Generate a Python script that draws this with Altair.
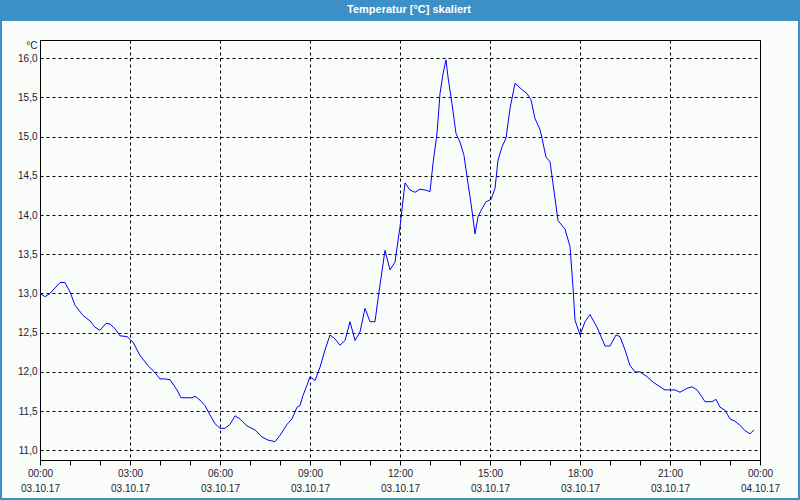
import altair as alt
import pandas as pd

# minutes after 03.10.17 00:00
minutes = [0, 10, 20, 40, 50, 60, 70, 86, 100, 110, 120, 132, 140, 150, 160, 174, 186, 200, 216, 230,
           240, 250, 260, 274, 282, 304, 310, 320, 330, 340, 350, 360, 370, 380, 390, 400, 414, 430, 444, 456,
           470, 480, 494, 504, 514, 520, 526, 534, 540, 550, 560, 570, 580, 590, 600, 610, 620, 630, 640, 650,
           660, 670, 676, 690, 700, 710, 720, 730, 740, 750, 760, 770, 780, 786, 794, 800, 806, 812, 816, 824,
           832, 840, 848, 854, 862, 870, 876, 884, 892, 902, 910, 916, 924, 932, 940, 950, 964, 974, 982, 990,
           1000, 1004, 1012, 1020, 1026, 1036, 1050, 1060, 1066, 1070, 1080, 1090, 1100, 1114, 1130, 1140, 1152, 1160, 1170, 1180,
           1190, 1200, 1214, 1226, 1240, 1250, 1270, 1280, 1294, 1304, 1314, 1324, 1330, 1344, 1352, 1360, 1370, 1380, 1390, 1400,
           1410, 1420, 1428]
temps = [13.00, 12.96, 13.00, 13.14, 13.14, 13.02, 12.85, 12.72, 12.65, 12.57, 12.53, 12.62, 12.61, 12.55, 12.46, 12.45, 12.38, 12.21, 12.08, 11.99,
         11.91, 11.91, 11.90, 11.77, 11.67, 11.67, 11.69, 11.64, 11.57, 11.45, 11.34, 11.28, 11.28, 11.33, 11.44, 11.40, 11.31, 11.26, 11.17, 11.13,
         11.11, 11.19, 11.33, 11.40, 11.55, 11.57, 11.70, 11.83, 11.94, 11.89, 12.06, 12.28, 12.47, 12.42, 12.34, 12.40, 12.64, 12.40, 12.51, 12.81,
         12.64, 12.64, 12.93, 13.55, 13.30, 13.40, 13.85, 14.41, 14.32, 14.29, 14.33, 14.32, 14.30, 14.66, 15.04, 15.55, 15.80, 15.98, 15.76, 15.42,
         15.04, 14.93, 14.76, 14.49, 14.15, 13.76, 13.98, 14.08, 14.17, 14.20, 14.34, 14.70, 14.87, 14.98, 15.36, 15.68, 15.60, 15.55, 15.47, 15.23,
         15.09, 14.98, 14.74, 14.68, 14.40, 13.93, 13.82, 13.60, 13.08, 12.66, 12.47, 12.64, 12.73, 12.57, 12.33, 12.33, 12.47, 12.45, 12.28, 12.08,
         12.00, 12.00, 11.94, 11.87, 11.81, 11.77, 11.77, 11.74, 11.79, 11.81, 11.77, 11.68, 11.62, 11.62, 11.65, 11.55, 11.51, 11.40, 11.37, 11.32,
         11.25, 11.21, 11.26]

y_ticks = [11.0, 11.5, 12.0, 12.5, 13.0, 13.5, 14.0, 14.5, 15.0, 15.5, 16.0]
title_text = "Temperatur [°C] skaliert"

start = pd.Timestamp("2017-10-03 00:00")
df = pd.DataFrame({
    "t": [(start + pd.Timedelta(minutes=m)).strftime("%Y-%m-%dT%H:%M:%S") for m in minutes],
    "v": temps,
})

x_values = [alt.DateTime(year=2017, month=10, date=3, hours=h) for h in range(24)] + \
           [alt.DateTime(year=2017, month=10, date=4, hours=0)]

FONT = "Liberation Sans"
LABEL_COLOR = "#1b1b33"
FS = 10

x_enc = alt.X(
    "t:T",
    scale=alt.Scale(domain=[alt.DateTime(year=2017, month=10, date=3, hours=0),
                            alt.DateTime(year=2017, month=10, date=4, hours=0)]),
    axis=alt.Axis(
        title=None,
        values=x_values,
        labelExpr="hours(datum.value) % 3 == 0 ? [timeFormat(datum.value, '%H:%M'), timeFormat(datum.value, '%d.%m.%y')] : ''",
        labelOverlap=False,
        labelFlush=False,
        labelFont=FONT,
        labelFontSize=FS,
        labelColor=LABEL_COLOR,
        labelLineHeight=15,
        labelPadding=3,
        tickSize=5,
        tickColor="black",
        domainColor="black",
        grid=True,
        gridColor="black",
        gridDash=[3, 3],
        gridOpacity={"condition": {"test": "hours(datum.value) % 3 == 0", "value": 1}, "value": 0},
    ),
)

y_enc = alt.Y(
    "v:Q",
    scale=alt.Scale(domain=[10.876, 16.233], nice=False, zero=False),
    axis=alt.Axis(
        title="°C",
        titleAngle=0,
        titleAlign="right",
        titleBaseline="middle",
        titleX=-3,
        titleY=5,
        titleFont=FONT,
        titleFontSize=FS,
        titleFontWeight="normal",
        titleColor=LABEL_COLOR,
        values=y_ticks,
        labelExpr="replace(format(datum.value, '.1f'), '.', ',')",
        labelFont=FONT,
        labelFontSize=FS,
        labelColor=LABEL_COLOR,
        labelPadding=3,
        ticks=False,
        domainColor="black",
        grid=True,
        gridColor="black",
        gridDash=[3, 3],
    ),
)

line = alt.Chart(df).mark_line(color="#0000ff", strokeWidth=1).encode(x=x_enc, y=y_enc)

one = pd.DataFrame({"label": [title_text]})
bar = alt.Chart(one).mark_rect(color="#3c90c6").encode(
    x=alt.value(-40), x2=alt.value(760), y=alt.value(-40), y2=alt.value(-19)
)
frame = alt.Chart(one).mark_rect(fill=None, stroke="#3c90c6", strokeWidth=2).encode(
    x=alt.value(-39), x2=alt.value(759), y=alt.value(-20), y2=alt.value(459)
)
title = alt.Chart(one).mark_text(
    color="white", font=FONT, fontSize=11, fontWeight="bold",
    align="center", baseline="alphabetic",
).encode(x=alt.value(369), y=alt.value(-27.5), text="label:N")

chart = alt.layer(bar, frame, title, line).properties(
    width=720,
    height=420,
    autosize=alt.AutoSizeParams(type="none"),
    padding={"left": 40, "top": 40, "right": 40, "bottom": 40},
).configure(background="#fafcfa").configure_view(stroke="black", strokeWidth=1)

chart.save("out.html", embed_options={"renderer": "svg", "actions": False})
